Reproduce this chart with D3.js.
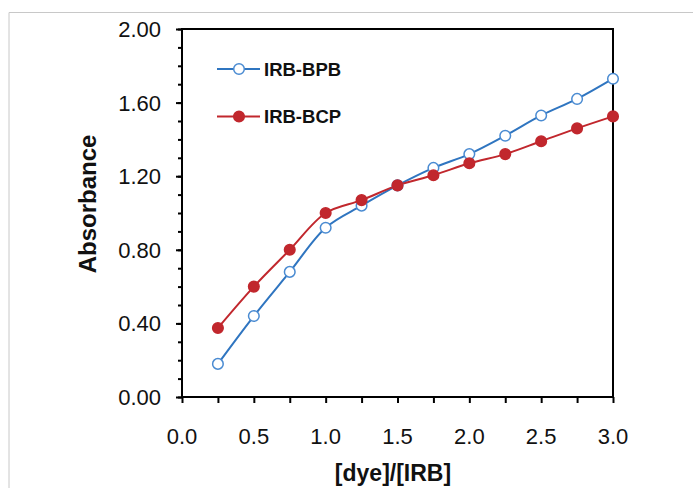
<!DOCTYPE html>
<html>
<head>
<meta charset="utf-8">
<script src="https://cdn.jsdelivr.net/npm/d3@7"></script>
<style>
  html, body { margin: 0; padding: 0; background: #fff; }
  svg { display: block; font-family: "Liberation Sans", Arial, sans-serif; }
</style>
</head>
<body>
<script>
const width = 693;
const height = 488;

// data
const ratios = [0.25, 0.5, 0.75, 1.0, 1.25, 1.5, 1.75, 2.0, 2.25, 2.5, 2.75, 3.0];
const bpb = [0.18, 0.44, 0.68, 0.92, 1.04, 1.15, 1.245, 1.32, 1.42, 1.53, 1.62, 1.73];
const bcp = [0.375, 0.60, 0.80, 1.00, 1.07, 1.15, 1.205, 1.27, 1.32, 1.39, 1.46, 1.525];
const xTicks = [0, 0.5, 1.0, 1.5, 2.0, 2.5, 3.0];
const yTicks = [0, 0.4, 0.8, 1.2, 1.6, 2.0];
const seriesNames = ["IRB-BPB", "IRB-BCP"];

const BLUE = "#2f75c0";
const BLUE_MARK = "#4a8bd2";
const RED = "#c1272d";

const margin = {left: 182, right: 80, top: 29, bottom: 91};

const svg = d3.select("body").append("svg")
    .attr("width", width)
    .attr("height", height);

// outer frame (only top and left edges are visible)
svg.append("path")
    .attr("d", `M9,${height} V12.5 H${width}`)
    .attr("fill", "none")
    .attr("stroke", "#c8c8c8")
    .attr("stroke-width", 1);

const x = d3.scaleLinear().domain([0, 3]).range([margin.left, width - margin.right]);
const y = d3.scaleLinear().domain([0, 2]).range([height - margin.bottom, margin.top]);

// box
svg.append("rect")
    .attr("x", x(0)).attr("y", y(2))
    .attr("width", x(3) - x(0)).attr("height", y(0) - y(2))
    .attr("fill", "none").attr("stroke", "#000").attr("stroke-width", 2);

// x axis: major every 0.5, minor at 0.25 steps
const xAxis = svg.append("g")
    .attr("transform", `translate(0,${y(0)})`)
    .call(d3.axisBottom(x).tickValues(d3.range(0, 3.01, 0.25)).tickSize(6).tickFormat(""));
xAxis.select(".domain").remove();
xAxis.selectAll("line").attr("stroke", "#000").attr("stroke-width", 2);

svg.append("g").selectAll("text")
    .data(xTicks).join("text")
    .attr("x", d => x(d))
    .attr("y", y(0) + 47)
    .attr("text-anchor", "middle")
    .attr("font-size", 22)
    .attr("fill", "#111")
    .text(d => d.toFixed(1));

// y axis: major 0.4, minor 0.1
const yMinor = svg.append("g")
    .attr("transform", `translate(${x(0)},0)`)
    .call(d3.axisLeft(y).tickValues(d3.range(0, 2.01, 0.1)).tickSize(4).tickFormat(""));
yMinor.select(".domain").remove();
yMinor.selectAll("line").attr("stroke", "#000").attr("stroke-width", 2);

const yMajor = svg.append("g")
    .attr("transform", `translate(${x(0)},0)`)
    .call(d3.axisLeft(y).tickValues(yTicks).tickSize(6).tickFormat(""));
yMajor.select(".domain").remove();
yMajor.selectAll("line").attr("stroke", "#000").attr("stroke-width", 2);

svg.append("g").selectAll("text")
    .data(yTicks).join("text")
    .attr("x", x(0) - 21)
    .attr("y", d => y(d) + 8)
    .attr("text-anchor", "end")
    .attr("font-size", 22)
    .attr("fill", "#111")
    .text(d => d.toFixed(2));

// axis titles
svg.append("text")
    .attr("transform", `translate(96,204) rotate(-90)`)
    .attr("text-anchor", "middle")
    .attr("font-size", 24)
    .attr("font-weight", "bold")
    .attr("fill", "#111")
    .text("Absorbance");

svg.append("text")
    .attr("x", 393)
    .attr("y", 481)
    .attr("text-anchor", "middle")
    .attr("font-size", 23)
    .attr("font-weight", "bold")
    .attr("fill", "#111")
    .text("[dye]/[IRB]");

// lines
const line = d3.line()
    .x(d => x(d[0]))
    .y(d => y(d[1]))
    .curve(d3.curveCatmullRom.alpha(0.5));

const series = [
    {name: seriesNames[0], vals: bpb, color: BLUE, fill: "#fff", mark: BLUE_MARK},
    {name: seriesNames[1], vals: bcp, color: RED, fill: RED, mark: RED}
];

series.forEach(s => {
    const pts = ratios.map((r, i) => [r, s.vals[i]]);
    svg.append("path")
        .attr("d", line(pts))
        .attr("fill", "none")
        .attr("stroke", s.color)
        .attr("stroke-width", 2);
});

// markers drawn after both lines (red on top)
series.forEach(s => {
    svg.append("g").selectAll("circle")
        .data(ratios.map((r, i) => [r, s.vals[i]]))
        .join("circle")
        .attr("cx", d => x(d[0]))
        .attr("cy", d => y(d[1]))
        .attr("r", 5.3)
        .attr("fill", s.fill)
        .attr("stroke", s.mark)
        .attr("stroke-width", 1.5);
});

// legend
const legend = svg.append("g");
series.forEach((s, i) => {
    const ly = 69 + i * 47.5;
    legend.append("line")
        .attr("x1", 217).attr("x2", 260)
        .attr("y1", ly).attr("y2", ly)
        .attr("stroke", s.color).attr("stroke-width", 2);
    legend.append("circle")
        .attr("cx", 239).attr("cy", ly).attr("r", 5.3)
        .attr("fill", s.fill).attr("stroke", s.mark).attr("stroke-width", 1.5);
    legend.append("text")
        .attr("x", 264).attr("y", ly + 6.5)
        .attr("font-size", 18.5)
        .attr("font-weight", "bold")
        .attr("fill", "#111")
        .text(s.name);
});
</script>
</body>
</html>
